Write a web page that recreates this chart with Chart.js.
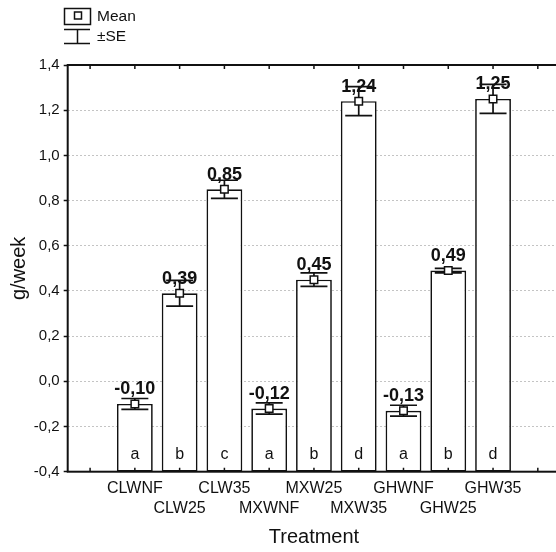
<!DOCTYPE html>
<html>
<head>
<meta charset="utf-8">
<script src="https://cdn.jsdelivr.net/npm/chart.js@4.4.1/dist/chart.umd.min.js"></script>
<style>
html,body{margin:0;padding:0;background:#fff;overflow:hidden;}
canvas{display:block;}
</style>
</head>
<body>
<canvas id="chart" width="567" height="552"></canvas>
<script>
// ─── Data ───
const treatments = ['', 'CLWNF', 'CLW25', 'CLW35', 'MXWNF', 'MXW25', 'MXW35', 'GHWNF', 'GHW25', 'GHW35', ''];
const means      = [null, -0.10, 0.39, 0.85, -0.12, 0.45, 1.24, -0.13, 0.49, 1.25, null];
const stdErr     = [null, 0.024, 0.057, 0.040, 0.025, 0.030, 0.064, 0.024, 0.010, 0.064, null];
const groups     = ['', 'a', 'b', 'c', 'a', 'b', 'd', 'a', 'b', 'd', ''];
const yMin = -0.4, yMax = 1.4, yStep = 0.2;

const INK  = '#111';
const FONT = "'Liberation Sans', Arial, sans-serif";
const fmt  = v => v.toFixed(2).replace('.', ',');
const fmtTick = v => (Math.abs(v) < 1e-9 ? 0 : v).toFixed(1).replace('.', ',');

// ─── Drawing helpers (error bars, frame, labels, legend) ───
const decor = {
    id: 'decor',
    afterDatasetDraw(chart, args) {
        if (args.index !== 0) return;
        const ctx = chart.ctx, y = chart.scales.y, meta = chart.getDatasetMeta(0);
        ctx.save();
        ctx.strokeStyle = INK; ctx.lineWidth = 1.7;
        meta.data.forEach((bar, i) => {
            if (means[i] == null) return;
            const x = bar.x, half = 13.5;
            const yt = y.getPixelForValue(means[i] + stdErr[i]);
            const yb = y.getPixelForValue(means[i] - stdErr[i]);
            ctx.beginPath();
            ctx.moveTo(x, yt); ctx.lineTo(x, yb);
            ctx.moveTo(x - half, yt); ctx.lineTo(x + half, yt);
            ctx.moveTo(x - half, yb); ctx.lineTo(x + half, yb);
            ctx.stroke();
        });
        ctx.restore();
    },
    afterDraw(chart) {
        const ctx = chart.ctx, a = chart.chartArea, x = chart.scales.x, y = chart.scales.y;
        ctx.save();
        // frame
        ctx.strokeStyle = INK; ctx.lineWidth = 2;
        ctx.strokeRect(a.left, a.top, a.right - a.left, a.bottom - a.top);
        // inward ticks top / bottom
        ctx.lineWidth = 1.5;
        ctx.beginPath();
        for (let i = 0; i < treatments.length; i++) {
            const px = x.getPixelForTick(i);
            ctx.moveTo(px, a.bottom); ctx.lineTo(px, a.bottom - 4);
            ctx.moveTo(px, a.top);    ctx.lineTo(px, a.top + 4);
        }
        ctx.stroke();

        // value labels + group letters
        const meta = chart.getDatasetMeta(0);
        ctx.fillStyle = INK;
        ctx.textAlign = 'center';
        ctx.textBaseline = 'alphabetic';
        meta.data.forEach((bar, i) => {
            if (means[i] == null) return;
            ctx.font = `bold 18px ${FONT}`;
            ctx.fillText(fmt(means[i]), bar.x, y.getPixelForValue(means[i]) - 9.5);
            ctx.font = `16px ${FONT}`;
            ctx.fillText(groups[i], bar.x, a.bottom - 12.5);
        });

        // legend
        ctx.lineWidth = 1.5;
        ctx.strokeRect(64.5, 8.5, 26, 16);
        ctx.fillStyle = '#fff';
        ctx.fillRect(74.5, 12, 7, 7);
        ctx.strokeRect(74.5, 12, 7, 7);
        ctx.beginPath();
        ctx.moveTo(64, 29.5); ctx.lineTo(90, 29.5);
        ctx.moveTo(77.5, 29.5); ctx.lineTo(77.5, 43.5);
        ctx.moveTo(64, 43.5); ctx.lineTo(90, 43.5);
        ctx.stroke();
        ctx.fillStyle = INK;
        ctx.font = `15.5px ${FONT}`;
        ctx.textAlign = 'left';
        ctx.textBaseline = 'middle';
        ctx.fillText('Mean', 97, 16.5);
        ctx.fillText('\u00B1SE', 97, 37);
        ctx.restore();
    }
};

// ─── Chart ───
Chart.defaults.font.family = FONT;
Chart.defaults.color = INK;

new Chart(document.getElementById('chart').getContext('2d'), {
    type: 'bar',
    data: {
        labels: treatments,
        datasets: [
            {
                label: 'Mean',
                data: means.map(m => m == null ? null : [yMin, m]),
                backgroundColor: '#fff', borderColor: INK, borderWidth: 1.7,
                borderSkipped: false, barPercentage: 1, categoryPercentage: 0.8,
                order: 2
            },
            {
                type: 'line', label: 'Mean point', data: means,
                showLine: false, pointStyle: 'rect', pointRadius: 5.3,
                pointBackgroundColor: '#fff', pointBorderColor: INK, pointBorderWidth: 1.5,
                order: 1
            }
        ]
    },
    options: {
        responsive: false, animation: false,
        layout: {padding: {top: 65, left: 0, right: 0, bottom: 0}},
        plugins: {legend: {display: false}, tooltip: {enabled: false}},
        scales: {
            x: {
                grid: {display: false, drawTicks: false, tickLength: 0},
                border: {display: false},
                ticks: {
                    autoSkip: false, maxRotation: 0, padding: 6,
                    font: {size: 16, lineHeight: 1.3}, color: INK,
                    callback: (v, i) => treatments[i] === '' ? '' : (i % 2 === 1 ? treatments[i] : ['', treatments[i]])
                },
                title: {display: true, text: 'Treatment', font: {size: 20}, color: INK, padding: {top: 0, bottom: 3}},
                afterFit: s => { s.height = 80.3; }
            },
            y: {
                min: yMin, max: yMax,
                grid: {
                    color: c => (Math.abs(c.tick.value - yMin) < 1e-6 || Math.abs(c.tick.value - yMax) < 1e-6) ? 'rgba(0,0,0,0)' : '#c4c4c4',
                    lineWidth: 1, tickColor: INK, tickLength: 4, tickWidth: 1.5
                },
                border: {display: false, dash: [2, 2]},
                ticks: {
                    stepSize: yStep, padding: 4, font: {size: 15}, color: INK,
                    callback: v => fmtTick(v)
                },
                title: {display: true, text: 'g/week', font: {size: 20}, color: INK, padding: {top: 7, bottom: 0}},
                afterFit: s => { s.width = 67.7; }
            }
        }
    },
    plugins: [decor]
});
</script>
</body>
</html>
